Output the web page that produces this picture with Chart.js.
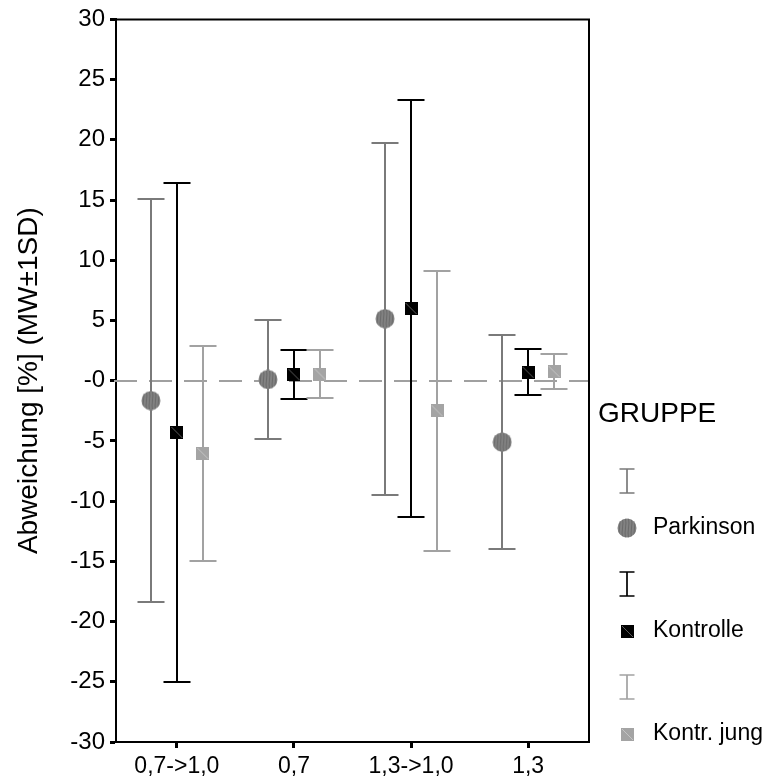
<!DOCTYPE html>
<html>
<head>
<meta charset="utf-8">
<title>Abweichung nach Gruppe</title>
<script src="https://cdn.jsdelivr.net/npm/chart.js@4.4.0/dist/chart.umd.min.js"></script>
<style>
  html, body { margin: 0; padding: 0; background: #fff; }
  #wrap { width: 768px; height: 781px; }
</style>
</head>
<body>
<div id="wrap"><canvas id="chart"></canvas></div>
<script>
// x categories
const categories = ['0,7->1,0', '0,7', '1,3->1,0', '1,3'];
const groups = ['Parkinson', 'Kontrolle', 'Kontr. jung'];

// mean values (MW) per group
const parkinsonMean = [-1.65, 0.1, 5.15, -5.1];
const kontrolleMean = [-4.3, 0.5, 6.0, 0.7];
const jungMean = [-6.05, 0.55, -2.5, 0.75];

// one standard deviation per group
const parkinsonSD = [16.75, 4.95, 14.6, 8.9];
const kontrolleSD = [20.7, 2.05, 17.3, 1.9];
const jungSD = [8.95, 2.0, 11.65, 1.45];

const FONT = '"Liberation Sans", Arial, sans-serif';
const colParkinson = '#7a7a7a';
const colKontrolle = '#000000';
const colJung = '#a2a2a2';

// little canvases used as point markers
function makeCircle() {
    const c = document.createElement('canvas');
    c.width = 20; c.height = 20;
    const g = c.getContext('2d');
    g.beginPath();
    g.arc(10, 10, 9.5, 0, Math.PI * 2);
    g.fillStyle = '#828282';
    g.fill();
    g.save();
    g.clip();
    g.strokeStyle = '#6a6a6a';
    g.lineWidth = 1;
    for (let x = 2; x < 20; x += 3) {
        g.beginPath();
        g.moveTo(x + 0.5, 0);
        g.bezierCurveTo(x + 2, 7, x - 1, 13, x + 0.5, 20);
        g.stroke();
    }
    g.restore();
    return c;
}

function makeSquare(fill, diag) {
    const c = document.createElement('canvas');
    c.width = 13; c.height = 13;
    const g = c.getContext('2d');
    g.fillStyle = fill;
    g.fillRect(0, 0, 13, 13);
    g.strokeStyle = diag;
    g.lineWidth = 1;
    g.beginPath();
    g.moveTo(1, 1);
    g.lineTo(12, 12);
    g.stroke();
    return c;
}

const markerParkinson = makeCircle();
const markerKontrolle = makeSquare('#000000', '#5a5a5a');
const markerJung = makeSquare('#a4a4a4', '#c4c4c4');

const offsets = [-0.222, 0, 0.222];

function toPoints(means, k) {
    return means.map((m, i) => ({ x: i + offsets[k], y: m }));
}

// dashed zero line + error bars, drawn under the markers
const errorBars = {
    id: 'errorBars',
    beforeDatasetsDraw(chart) {
        const { ctx, chartArea: a, scales: { x, y } } = chart;
        ctx.save();
        const y0 = Math.round(y.getPixelForValue(0));
        ctx.strokeStyle = '#a0a0a0';
        ctx.lineWidth = 2;
        ctx.setLineDash([23, 12]);
        ctx.beginPath();
        ctx.moveTo(a.left - 2, y0);
        ctx.lineTo(a.right, y0);
        ctx.stroke();
        ctx.setLineDash([]);

        chart.data.datasets.forEach((ds) => {
            ctx.strokeStyle = ds.barColor;
            ctx.lineWidth = 2;
            ds.data.forEach((p, i) => {
                const px = Math.round(x.getPixelForValue(p.x));
                const top = Math.round(y.getPixelForValue(p.y + ds.sd[i]));
                const bot = Math.round(y.getPixelForValue(p.y - ds.sd[i]));
                ctx.beginPath();
                ctx.moveTo(px, top);
                ctx.lineTo(px, bot);
                ctx.moveTo(px - 13.5, top);
                ctx.lineTo(px + 13.5, top);
                ctx.moveTo(px - 13.5, bot);
                ctx.lineTo(px + 13.5, bot);
                ctx.stroke();
            });
        });
        ctx.restore();
    }
};

// top and right frame lines
const frame = {
    id: 'frame',
    afterDraw(chart) {
        const { ctx, chartArea: a } = chart;
        ctx.save();
        ctx.strokeStyle = '#000';
        ctx.lineWidth = 2;
        ctx.beginPath();
        ctx.moveTo(a.left, a.top);
        ctx.lineTo(a.right, a.top);
        ctx.lineTo(a.right, a.bottom);
        ctx.stroke();
        ctx.restore();
    }
};

// legend on the right side: error bar symbol, then marker + name
const legendBox = {
    id: 'legendBox',
    afterDraw(chart) {
        const { ctx, chartArea: a } = chart;
        const x0 = a.right;
        const markers = [markerParkinson, markerKontrolle, markerJung];
        const colors = [colParkinson, colKontrolle, colJung];
        ctx.save();
        ctx.fillStyle = '#000';
        ctx.textBaseline = 'middle';
        ctx.font = '28px ' + FONT;
        ctx.fillText('GRUPPE', x0 + 9, 414);

        ctx.font = '23px ' + FONT;
        groups.forEach((name, k) => {
            const yBar = 481 + k * 103;
            const yMark = 528 + k * 103;
            const cx = x0 + 38;
            ctx.strokeStyle = colors[k];
            ctx.lineWidth = 1.7;
            ctx.beginPath();
            ctx.moveTo(cx, yBar - 12);
            ctx.lineTo(cx, yBar + 12);
            ctx.moveTo(cx - 7.5, yBar - 12);
            ctx.lineTo(cx + 7.5, yBar - 12);
            ctx.moveTo(cx - 7.5, yBar + 12);
            ctx.lineTo(cx + 7.5, yBar + 12);
            ctx.stroke();
            const m = markers[k];
            ctx.drawImage(m, Math.round(cx - m.width / 2), Math.round(yMark - m.height / 2));
            ctx.fillText(name, x0 + 64, yMark);
        });
        ctx.restore();
    }
};

new Chart(document.getElementById('chart'), {
    type: 'scatter',
    data: {
        datasets: [
            {
                label: groups[0],
                data: toPoints(parkinsonMean, 0),
                sd: parkinsonSD,
                barColor: colParkinson,
                pointStyle: markerParkinson,
                pointRadius: 10
            },
            {
                label: groups[1],
                data: toPoints(kontrolleMean, 1),
                sd: kontrolleSD,
                barColor: colKontrolle,
                pointStyle: markerKontrolle,
                pointRadius: 7
            },
            {
                label: groups[2],
                data: toPoints(jungMean, 2),
                sd: jungSD,
                barColor: colJung,
                pointStyle: markerJung,
                pointRadius: 7
            }
        ]
    },
    options: {
        responsive: true,
        maintainAspectRatio: false,
        animation: false,
        layout: { padding: { top: 18, right: 179, bottom: 0, left: 0 } },
        plugins: {
            legend: { display: false },
            tooltip: { enabled: false }
        },
        scales: {
            x: {
                type: 'linear',
                min: -0.52,
                max: 3.52,
                afterBuildTicks: (scale) => {
                    scale.ticks = categories.map((c, i) => ({ value: i }));
                },
                afterFit: (scale) => { scale.height = 39; },
                ticks: {
                    autoSkip: false,
                    maxRotation: 0,
                    padding: 5,
                    color: '#000',
                    font: { family: FONT, size: 23 },
                    callback: (v) => categories[v]
                },
                grid: {
                    drawOnChartArea: false,
                    tickLength: 6,
                    tickWidth: 3,
                    tickColor: '#000',
                    color: '#000'
                },
                border: { color: '#000', width: 2 }
            },
            y: {
                min: -30,
                max: 30,
                afterFit: (scale) => { scale.width = 116; },
                ticks: {
                    stepSize: 5,
                    padding: 5,
                    color: '#000',
                    font: { family: FONT, size: 24 },
                    callback: (v) => (v === 0 ? '-0' : String(v))
                },
                grid: {
                    drawOnChartArea: false,
                    tickLength: 6,
                    tickWidth: 3,
                    tickColor: '#000',
                    color: '#000'
                },
                border: { color: '#000', width: 2 },
                title: {
                    display: true,
                    text: 'Abweichung [%] (MW±1SD)',
                    color: '#000',
                    font: { family: FONT, size: 28 },
                    padding: { top: 12, bottom: 0 }
                }
            }
        }
    },
    plugins: [errorBars, frame, legendBox]
});
</script>
</body>
</html>
